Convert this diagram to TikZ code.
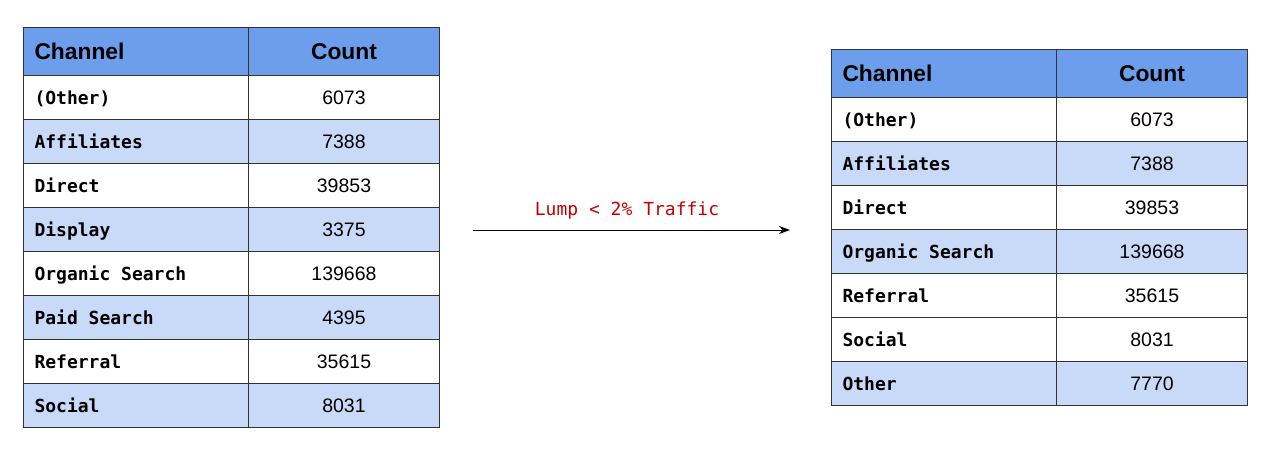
\documentclass[tikz,border=0pt]{standalone}
\usepackage{fontspec}
\setmainfont{Liberation Sans}
\newfontfamily\monob[WordSpace={1,0,0}]{DejaVu Sans Mono}
\usetikzlibrary{arrows.meta,calc}
\definecolor{headcol}{HTML}{6D9EEB}
\definecolor{altcol}{HTML}{C9DAF8}
\definecolor{bordercol}{HTML}{333333}
\definecolor{labred}{HTML}{C00000}
\newcommand{\msp}{\hphantom{x}}
\tikzset{
  cellbase/.style={draw=bordercol, line width=1pt, inner ysep=0pt, minimum height=44pt, anchor=north west},
  namecell/.style={cellbase, minimum width=225pt, text width=203pt, inner xsep=11pt, align=left,
     font=\monob\bfseries\fontsize{18}{18}\selectfont, text height=17pt, text depth=4pt},
  valcell/.style={cellbase, minimum width=191pt, text width=171pt, inner xsep=10pt, align=center,
     font=\fontsize{19.5}{19.5}\selectfont, text height=18pt, text depth=4pt},
  headname/.style={namecell, minimum height=48pt, fill=headcol, font=\bfseries\fontsize{22.8}{22.8}\selectfont, text height=20.5pt},
  headval/.style={valcell, minimum height=48pt, fill=headcol, font=\bfseries\fontsize{22.8}{22.8}\selectfont, text height=20.5pt},
  arrowlabel/.style={font=\monob\fontsize{18}{18}\selectfont, text=labred, inner sep=0pt},
  flow/.style={line width=1pt, -{Stealth[length=11pt,width=8pt]}}
}
\newcommand{\tabrow}[6]{%
  \node[namecell, fill=#4] (#1a) at (#2,#3) {#5};
  \node[valcell, fill=#4] (#1b) at ({#2+225},#3) {#6};
}
\begin{document}
\begin{tikzpicture}[x=1pt,y=-1pt]
\useasboundingbox (0,0) rectangle (1271,458);
% left table
\node[headname] (LHa) at (23,27) {Channel};
\node[headval] (LHb) at (248,27) {Count};
\tabrow{L1}{23}{75}{white}{(Other)}{6073}
\tabrow{L2}{23}{119}{altcol}{Affiliates}{7388}
\tabrow{L3}{23}{163}{white}{Direct}{39853}
\tabrow{L4}{23}{207}{altcol}{Display}{3375}
\tabrow{L5}{23}{251}{white}{Organic\msp Search}{139668}
\tabrow{L6}{23}{295}{altcol}{Paid\msp Search}{4395}
\tabrow{L7}{23}{339}{white}{Referral}{35615}
\tabrow{L8}{23}{383}{altcol}{Social}{8031}
% right table
\node[headname] (RHa) at (831,49) {Channel};
\node[headval] (RHb) at (1056,49) {Count};
\tabrow{R1}{831}{97}{white}{(Other)}{6073}
\tabrow{R2}{831}{141}{altcol}{Affiliates}{7388}
\tabrow{R3}{831}{185}{white}{Direct}{39853}
\tabrow{R4}{831}{229}{altcol}{Organic\msp Search}{139668}
\tabrow{R5}{831}{273}{white}{Referral}{35615}
\tabrow{R6}{831}{317}{white}{Social}{8031}
\tabrow{R7}{831}{361}{altcol}{Other}{7770}
% arrow
\coordinate (AS) at (473,230);
\coordinate (AE) at (790,230);
\draw[flow] (AS) -- (AE);
\node[arrowlabel] (AL) at (627,211) {Lump\msp<\msp2\%\msp Traffic};
\end{tikzpicture}
\end{document}
